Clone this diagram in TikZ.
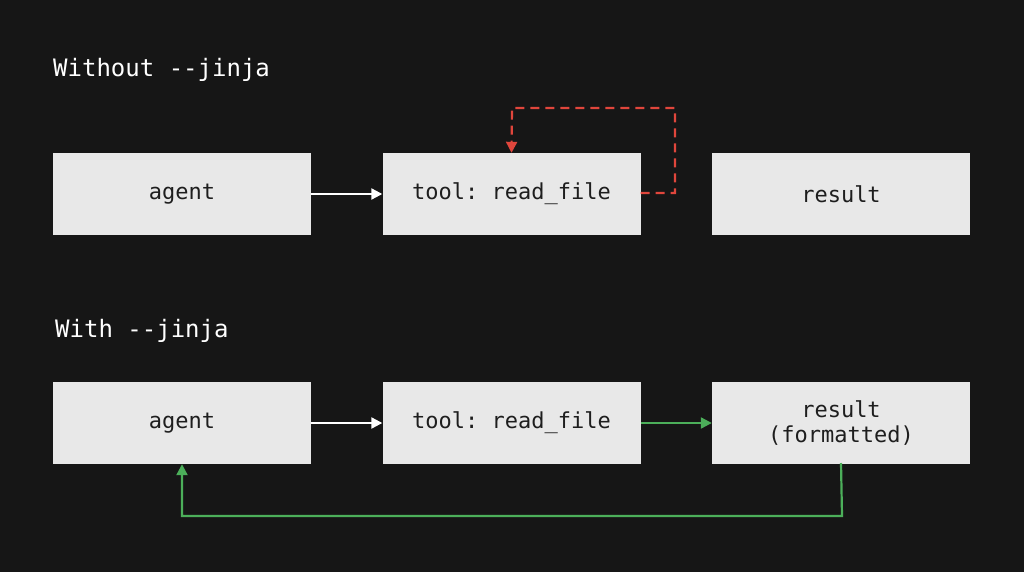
\documentclass[tikz,border=0pt]{standalone}
\usepackage{fontspec}
\setmonofont{DejaVu Sans Mono}
\usetikzlibrary{arrows.meta}
\definecolor{bg}{HTML}{161616}
\definecolor{boxc}{HTML}{E8E8E8}
\definecolor{txt}{HTML}{1E1E1E}
\definecolor{redd}{HTML}{E0463C}
\definecolor{grn}{HTML}{4CAF5A}
\begin{document}
\begin{tikzpicture}[x=1pt,y=-1pt,
  box/.style={fill=boxc,draw=none,minimum width=258pt,minimum height=82pt,inner sep=0pt,font=\fontsize{22}{25}\selectfont\ttfamily,text=txt,align=center},
  title/.style={anchor=west,text=white,font=\fontsize{24}{28}\selectfont\ttfamily,inner sep=0pt},
  arr/.style={line width=2.2pt,-{Triangle[length=11pt,width=11pt]}}]
\fill[bg] (0,0) rectangle (1024,572);
\useasboundingbox (0,0) rectangle (1024,572);
\node[title] (t1) at (53,70) {Without --jinja};
\node[title] (t2) at (55,331) {With --jinja};
\node[box] (a1) at (182,194) {agent};
\node[box] (b1) at (511.5,194) {tool: read\_file};
\node[box] (c1) at (841,194) {result};
\node[box] (a2) at (182,423) {agent};
\node[box] (b2) at (511.5,423) {tool: read\_file};
\node[box] (c2) at (841,423) {result\\(formatted)};
\coordinate (r1) at (675,193);
\coordinate (r2) at (675,108);
\coordinate (r3) at (512,108);
\coordinate (g1) at (842,516);
\coordinate (g2) at (182,516);
\draw[arr,white] (a1) -- (b1);
\draw[arr,white] (a2) -- (b2);
\draw[arr,redd,dash pattern=on 9pt off 6pt] (b1.east |- r1) -- (r1) -- (r2) -- (r3) -- (b1.north);
\draw[arr,grn] (b2) -- (c2);
\draw[arr,grn] (c2.south |- 0,463) -- (g1) -- (g2) -- (a2.south);
\end{tikzpicture}
\end{document}
